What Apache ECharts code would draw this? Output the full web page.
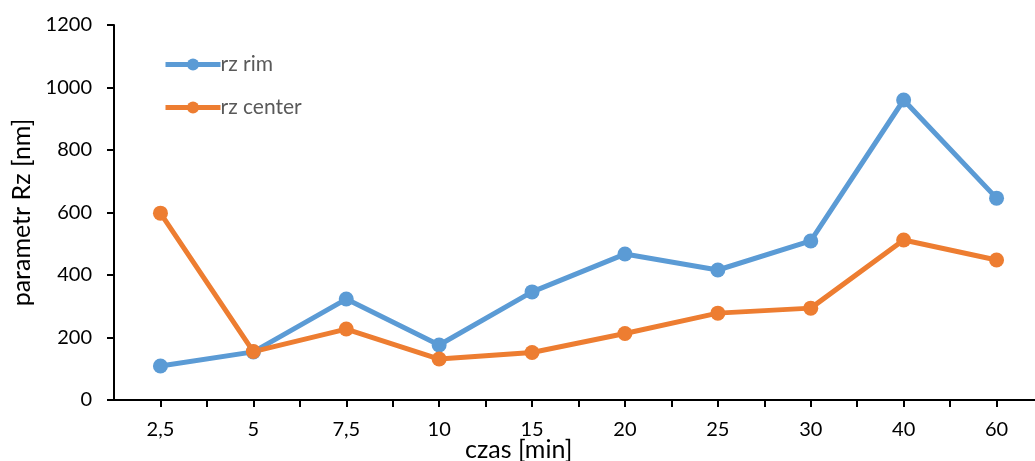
<!DOCTYPE html>
<html>
<head>
<meta charset="utf-8">
<script src="https://cdn.jsdelivr.net/npm/echarts@6/dist/echarts.min.js"></script>
<style>
html,body{margin:0;padding:0;background:#fff;}
#chart{width:1035px;height:461px;}
</style>
</head>
<body>
<div id="chart"></div>
<script>
const categories = ['2,5', '5', '7,5', '10', '15', '20', '25', '30', '40', '60'];
const rzRim = [109, 154, 323, 176, 346, 467, 416, 509, 960, 646];
const rzCenter = [598, 155, 227, 131, 152, 213, 278, 294, 512, 448];
const yTicks = [0, 200, 400, 600, 800, 1000, 1200];

const FONT = 'Lato, "Liberation Sans", sans-serif';
const toPoints = arr => arr.map((v, i) => [i + 0.5, v]);

const chart = echarts.init(document.getElementById('chart'));
chart.setOption({
  animation: false,
  backgroundColor: '#fff',
  grid: { left: 114, top: 25, bottom: 61, right: -8, containLabel: false, outerBoundsMode: 'none' },
  legend: {
    orient: 'vertical',
    left: 158,
    top: 49,
    itemWidth: 55,
    itemHeight: 15,
    itemGap: 22,
    lineStyle: { width: 5 },
    textStyle: { fontFamily: FONT, fontSize: 21, color: '#595959', padding: [0, 0, 0, -5] },
    data: ['rz rim', 'rz center']
  },
  xAxis: {
    type: 'value',
    min: 0,
    max: categories.length,
    interval: 0.5,
    splitLine: { show: false },
    axisLine: { lineStyle: { color: '#000', width: 2 } },
    axisTick: { show: true, length: 7, lineStyle: { color: '#000', width: 2 } },
    axisLabel: {
      showMinLabel: false,
      showMaxLabel: false,
      margin: 20,
      fontFamily: FONT,
      fontSize: 20,
      color: '#000',
      formatter: v => {
        const k = v - 0.5;
        if (Math.abs(k - Math.round(k)) < 1e-6) {
          const idx = Math.round(k);
          return categories[idx] !== undefined ? categories[idx] : '';
        }
        return '';
      }
    }
  },
  yAxis: {
    type: 'value',
    min: yTicks[0],
    max: yTicks[yTicks.length - 1],
    interval: 200,
    name: 'parametr Rz [nm]',
    nameLocation: 'middle',
    nameGap: 80,
    nameTextStyle: { fontFamily: FONT, fontSize: 25, color: '#000' },
    splitLine: { show: false },
    axisLine: { show: true, lineStyle: { color: '#000', width: 2 } },
    axisTick: { show: true, length: 7, lineStyle: { color: '#000', width: 2 } },
    axisLabel: { margin: 22, fontFamily: FONT, fontSize: 20, color: '#000', formatter: v => String(v) }
  },
  graphic: [{
    type: 'text',
    left: 465,
    top: 437,
    style: { text: 'czas [min]', font: '25px ' + FONT, fill: '#000' }
  }],
  series: [
    {
      name: 'rz rim',
      type: 'line',
      data: toPoints(rzRim),
      symbol: 'circle',
      symbolSize: 15,
      itemStyle: { color: '#5B9BD5' },
      lineStyle: { color: '#5B9BD5', width: 5 }
    },
    {
      name: 'rz center',
      type: 'line',
      data: toPoints(rzCenter),
      symbol: 'circle',
      symbolSize: 15,
      itemStyle: { color: '#ED7D31' },
      lineStyle: { color: '#ED7D31', width: 5 }
    }
  ]
});
</script>
</body>
</html>
